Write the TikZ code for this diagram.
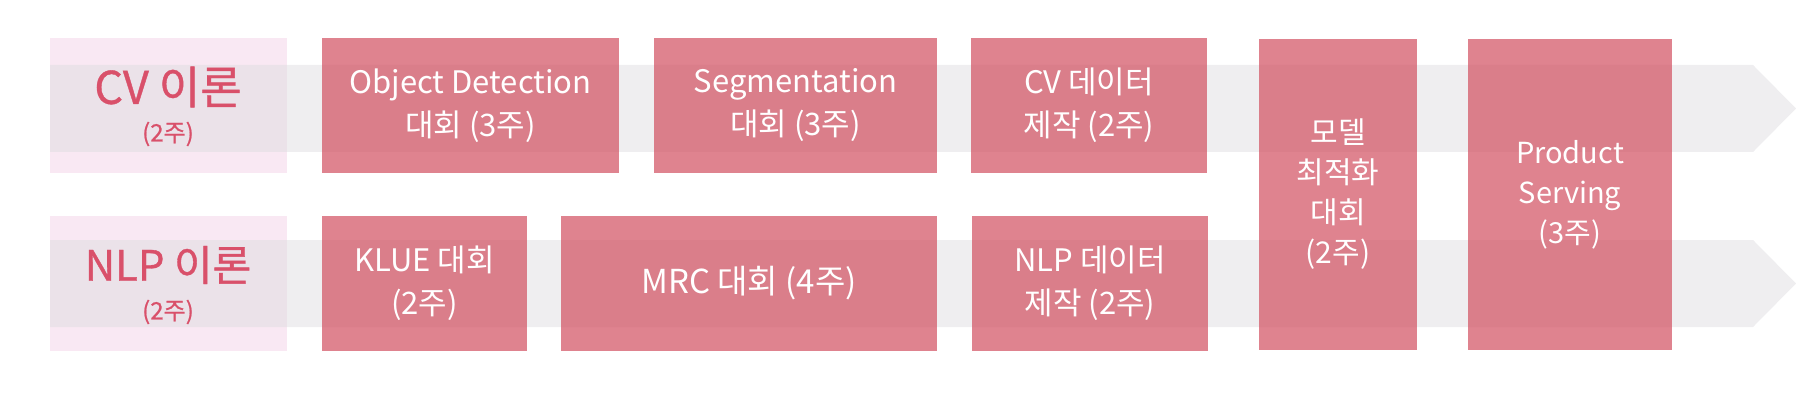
\documentclass[tikz,border=0pt]{standalone}
\usepackage{fontspec}
\setmainfont{Noto Sans CJK KR}
\newfontfamily\labelfont[FakeBold=0.8]{Noto Sans CJK KR}
\definecolor{bandgray}{RGB}{223,221,225}
\definecolor{labelfill}{RGB}{249,232,243}
\definecolor{labeltext}{RGB}{217,80,106}
\definecolor{boxpink}{RGB}{209,78,96}
\tikzset{
  band/.style={fill=bandgray, fill opacity=0.5, draw=none},
  labelbox/.style={rectangle, fill=labelfill, draw=none, inner sep=0pt},
  labeltxt/.style={text=labeltext, align=center, inner sep=0pt},
  pinkbox/.style={rectangle, fill=boxpink, fill opacity=0.7, text opacity=1, draw=none,
    text=white, align=center, inner sep=0pt, font=\fontsize{31}{43}\selectfont},
}
\begin{document}
\begin{tikzpicture}[x=1pt,y=-1pt]
\useasboundingbox (0,0) rectangle (1796,414);
% label boxes
\node[labelbox, minimum width=237pt, minimum height=135pt] (cvbox) at (168.5,105.5) {};
\node[labelbox, minimum width=237pt, minimum height=135pt] (nlpbox) at (168.5,283.5) {};
% bands
\fill[band] (50,65) -- (1753,65) -- (1796,108.5) -- (1753,152) -- (50,152) -- cycle;
\fill[band] (50,240) -- (1753,240) -- (1796,283.5) -- (1753,327) -- (50,327) -- cycle;
% label texts
\node[labeltxt, font=\labelfont\fontsize{45}{45}\selectfont] (cvt) at (168,87) {CV 이론};
\node[labeltxt, font=\labelfont\fontsize{24}{24}\selectfont] (cvw) at (168,134) {(2주)};
\node[labeltxt, font=\labelfont\fontsize{42}{42}\selectfont] (nlpt) at (168,265) {NLP 이론};
\node[labeltxt, font=\labelfont\fontsize{24}{24}\selectfont] (nlpw) at (168,312) {(2주)};
% pink boxes
\node[pinkbox, minimum width=297pt, minimum height=135pt] (od) at (470.5,105.5) {Object Detection\\대회 (3주)};
\node[pinkbox, minimum width=283pt, minimum height=135pt] (seg) at (795.5,105.5) {Segmentation\\대회 (3주)};
\node[pinkbox, minimum width=236pt, minimum height=135pt] (cvd) at (1089,105.5) {CV 데이터\\제작 (2주)};
\node[pinkbox, minimum width=205pt, minimum height=135pt] (klue) at (424.5,283.5) {KLUE 대회\\(2주)};
\node[pinkbox, minimum width=376pt, minimum height=135pt, font=\fontsize{33}{43}\selectfont] (mrc) at (749,283.5) {MRC 대회 (4주)};
\node[pinkbox, minimum width=236pt, minimum height=135pt] (nlpd) at (1090,283.5) {NLP 데이터\\제작 (2주)};
\node[pinkbox, minimum width=158pt, minimum height=311pt, font=\fontsize{30}{40}\selectfont] (opt) at (1338,194.5) {모델\\최적화\\대회\\(2주)};
\node[pinkbox, minimum width=204pt, minimum height=311pt, font=\fontsize{29}{40}\selectfont] (serve) at (1570,194.5) {Product\\Serving\\(3주)};
\end{tikzpicture}
\end{document}
